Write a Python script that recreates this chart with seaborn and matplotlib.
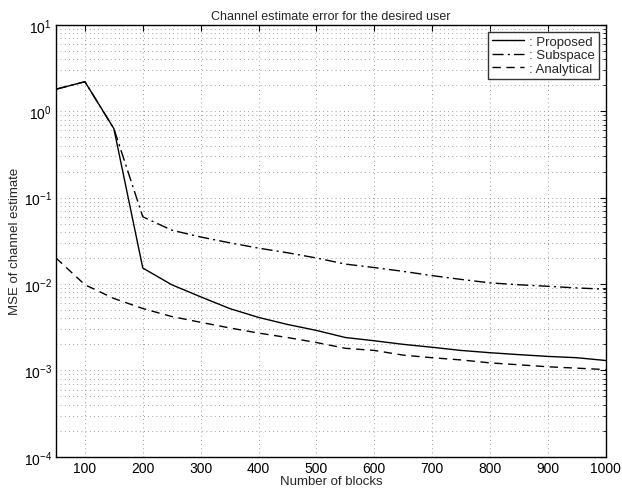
import numpy as np
import pandas as pd
import matplotlib
matplotlib.use("Agg")
import matplotlib.pyplot as plt
import seaborn as sns
from matplotlib.ticker import LogLocator, FixedLocator, NullFormatter

blocks = [50, 100, 150, 200, 250, 300, 350, 400, 450, 500, 550, 600,
          650, 700, 750, 800, 850, 900, 950, 1000]
proposed = [1.8, 2.2, 0.63, 0.0153, 0.0098, 0.0071, 0.0052, 0.0041, 0.0034,
            0.0029, 0.0024, 0.0022, 0.0020, 0.00185, 0.0017, 0.0016, 0.00152,
            0.00145, 0.0014, 0.0013]
subspace = [1.8, 2.2, 0.63, 0.060, 0.042, 0.035, 0.030, 0.026, 0.023, 0.020,
            0.017, 0.0155, 0.014, 0.0125, 0.0113, 0.0103, 0.0098, 0.0094,
            0.0090, 0.0087]
analytical = [0.020, 0.0098, 0.0068, 0.0052, 0.0042, 0.0036, 0.0031, 0.0027,
              0.0024, 0.0021, 0.0018, 0.0017, 0.0015, 0.0014, 0.00132, 0.00122,
              0.00116, 0.0011, 0.00106, 0.00102]
labels = [": Proposed", ": Subspace", ": Analytical"]
xticks = [100, 200, 300, 400, 500, 600, 700, 800, 900, 1000]

sns.set_style("white")
plt.rcParams['font.family'] = ['Liberation Sans', 'DejaVu Sans']
plt.rcParams['mathtext.fontset'] = 'custom'
plt.rcParams['mathtext.rm'] = 'Liberation Sans'
plt.rcParams['mathtext.it'] = 'Liberation Sans'

fig = plt.figure(figsize=(6.22, 4.89), dpi=100)
ax = fig.add_axes([0.090, 0.064, 0.884, 0.883])

styles = ['-', (0, (8, 3, 1.5, 3)), (0, (6, 4))]
for lab, vals, ls in zip(labels, [proposed, subspace, analytical], styles):
    df = pd.DataFrame({"blocks": blocks, "mse": vals})
    sns.lineplot(data=df, x="blocks", y="mse", ax=ax, color='black',
                 linestyle=ls, linewidth=1.0, label=lab)

ax.set_yscale('log')
ax.set_xlim(50, 1000)
ax.set_ylim(1e-4, 10)
ax.xaxis.set_major_locator(FixedLocator(xticks))
ax.yaxis.set_major_locator(LogLocator(base=10, numticks=10))
ax.yaxis.set_minor_locator(LogLocator(base=10, subs=np.arange(2, 10), numticks=20))
ax.yaxis.set_minor_formatter(NullFormatter())

ax.grid(True, which='major', axis='both', linestyle=(0, (1, 4)), color='0.5', linewidth=0.6)
ax.grid(True, which='minor', axis='y', linestyle=(0, (1, 4)), color='0.5', linewidth=0.6)

ax.tick_params(which='both', direction='in', top=True, right=True, labelsize=10, colors='black')
ax.tick_params(which='major', length=4, pad=3)
ax.tick_params(which='minor', length=2)
for s in ax.spines.values():
    s.set_color('black')
    s.set_linewidth(1.0)

ax.set_title("Channel estimate error for the desired user", fontsize=9, pad=4)
ax.set_xlabel("Number of blocks", fontsize=9.5, labelpad=0)
ax.set_ylabel("MSE of channel estimate", fontsize=9.5, labelpad=2)

leg = ax.legend(loc='upper right', fontsize=9.5, frameon=True, fancybox=False,
                edgecolor='black', handlelength=2.4, borderaxespad=0.5,
                labelspacing=0.1, borderpad=0.3, handletextpad=0.4)
leg.get_frame().set_linewidth(1.0)

fig.savefig("out.png", dpi=100)
